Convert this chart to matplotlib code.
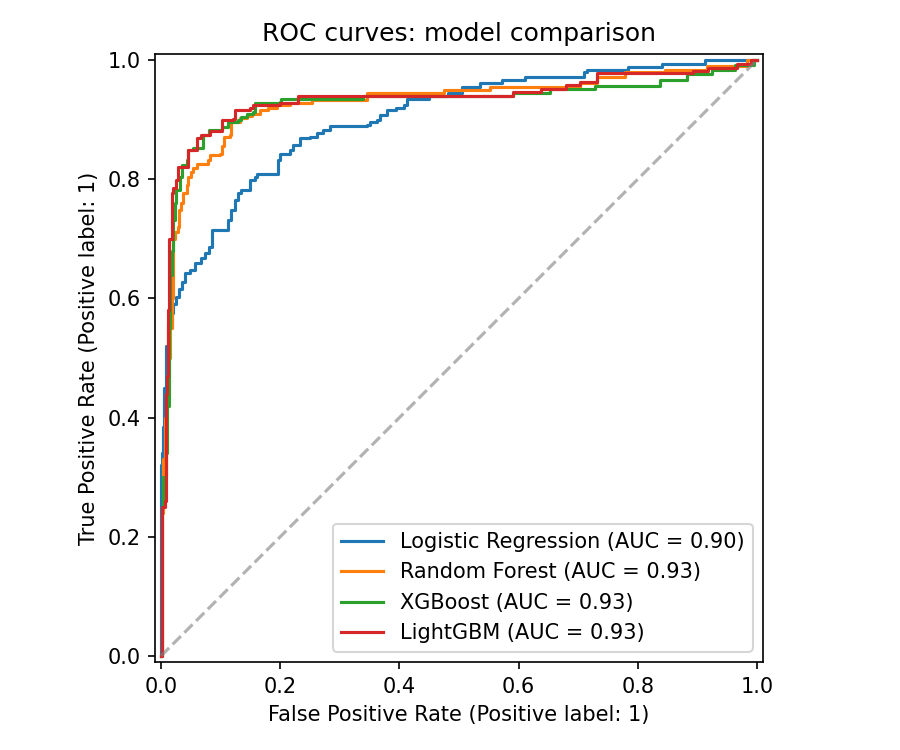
import matplotlib
matplotlib.use("Agg")
import matplotlib.pyplot as plt

models = ["Logistic Regression", "Random Forest", "XGBoost", "LightGBM"]
auc_values = [0.90, 0.93, 0.93, 0.93]
colors = ["#1f77b4", "#ff7f0e", "#2ca02c", "#d62728"]

# ROC step vertices (fpr, tpr level held until next fpr)
lr_fpr = [0, 0.0, 0.002, 0.003, 0.005, 0.008, 0.012, 0.018, 0.021, 0.026, 0.030, 0.035,
          0.040, 0.049, 0.057, 0.068, 0.074, 0.081, 0.085, 0.113, 0.118, 0.124, 0.130,
          0.135, 0.149, 0.158, 0.161, 0.197, 0.200, 0.216, 0.222, 0.233, 0.250, 0.261,
          0.272, 0.284, 0.345, 0.351, 0.362, 0.367, 0.379, 0.395, 0.407, 0.412, 0.449,
          0.482, 0.505, 0.535, 0.572, 0.611, 0.709, 0.714, 0.784, 0.840, 0.913, 1.0]
lr_tpr = [0, 0.32, 0.34, 0.385, 0.45, 0.52, 0.555, 0.575, 0.59, 0.603, 0.615, 0.628,
          0.642, 0.648, 0.659, 0.667, 0.676, 0.687, 0.715, 0.732, 0.748, 0.765, 0.776,
          0.782, 0.799, 0.804, 0.809, 0.832, 0.843, 0.849, 0.857, 0.869, 0.871, 0.877,
          0.883, 0.889, 0.891, 0.896, 0.899, 0.908, 0.916, 0.919, 0.924, 0.934, 0.940,
          0.944, 0.955, 0.961, 0.966, 0.971, 0.979, 0.983, 0.988, 0.993, 1.0, 1.0]

rf_fpr = [0, 0.001, 0.003, 0.006, 0.009, 0.012, 0.016, 0.018, 0.020, 0.021, 0.023, 0.029,
          0.031, 0.034, 0.037, 0.043, 0.046, 0.050, 0.054, 0.060, 0.079, 0.082, 0.099,
          0.102, 0.105, 0.116, 0.118, 0.133, 0.144, 0.152, 0.166, 0.180, 0.194, 0.216,
          0.253, 0.345, 0.474, 0.552, 0.703, 0.731, 0.779, 0.846, 0.916, 0.983, 1.0]
rf_tpr = [0, 0.24, 0.33, 0.40, 0.44, 0.50, 0.55, 0.60, 0.681, 0.70, 0.712, 0.720,
          0.748, 0.760, 0.776, 0.790, 0.804, 0.812, 0.818, 0.826, 0.832, 0.841, 0.843,
          0.855, 0.871, 0.874, 0.896, 0.902, 0.906, 0.910, 0.916, 0.919, 0.924, 0.927,
          0.932, 0.944, 0.950, 0.955, 0.961, 0.972, 0.979, 0.983, 0.990, 1.0, 1.0]

xgb_fpr = [0, 0.001, 0.004, 0.008, 0.010, 0.013, 0.016, 0.018, 0.021, 0.023, 0.026, 0.032,
           0.035, 0.043, 0.046, 0.053, 0.070, 0.080, 0.102, 0.113, 0.130, 0.135, 0.144,
           0.155, 0.158, 0.200, 0.202, 0.339, 0.591, 0.652, 0.728, 0.837, 0.882, 0.924,
           0.963, 0.995, 1.0]
xgb_tpr = [0, 0.25, 0.30, 0.34, 0.42, 0.55, 0.64, 0.68, 0.732, 0.760, 0.782, 0.804,
           0.824, 0.832, 0.849, 0.852, 0.874, 0.882, 0.888, 0.896, 0.899, 0.904, 0.910,
           0.913, 0.927, 0.930, 0.934, 0.940, 0.944, 0.951, 0.956, 0.966, 0.977, 0.983,
           0.992, 1.0, 1.0]

lgb_fpr = [0, 0.002, 0.006, 0.008, 0.010, 0.012, 0.014, 0.019, 0.021, 0.025, 0.029, 0.046,
           0.060, 0.068, 0.082, 0.102, 0.121, 0.124, 0.149, 0.155, 0.200, 0.216, 0.230,
           0.591, 0.638, 0.680, 0.703, 0.731, 0.893, 0.918, 0.966, 0.990, 1.0]
lgb_tpr = [0, 0.25, 0.26, 0.44, 0.47, 0.58, 0.70, 0.776, 0.785, 0.799, 0.821, 0.849,
           0.869, 0.874, 0.880, 0.899, 0.901, 0.916, 0.919, 0.924, 0.927, 0.928, 0.940,
           0.946, 0.951, 0.958, 0.963, 0.978, 0.981, 0.986, 0.993, 1.0, 1.0]

curves = [(lr_fpr, lr_tpr), (rf_fpr, rf_tpr), (xgb_fpr, xgb_tpr), (lgb_fpr, lgb_tpr)]

fig = plt.figure(figsize=(6, 5), dpi=150)
ax = fig.add_axes([155 / 900, 88 / 750, 608 / 900, 608 / 750])

for name, auc, col, (fx, ty) in zip(models, auc_values, colors, curves):
    ax.plot([0] + fx, [0] + ty, drawstyle="steps-post", color=col, lw=1.5,
            label=f"{name} (AUC = {auc:.2f})")

ax.plot([0, 1], [0, 1], linestyle="--", color="gray", alpha=0.6, lw=1.5)

ax.set_xlim(-0.01, 1.01)
ax.set_ylim(-0.01, 1.01)
ax.set_aspect("equal")
ax.set_xlabel("False Positive Rate (Positive label: 1)")
ax.set_ylabel("True Positive Rate (Positive label: 1)")
ax.set_title("ROC curves: model comparison")
ax.legend(loc="lower right")

fig.savefig("out.png", dpi=150)
